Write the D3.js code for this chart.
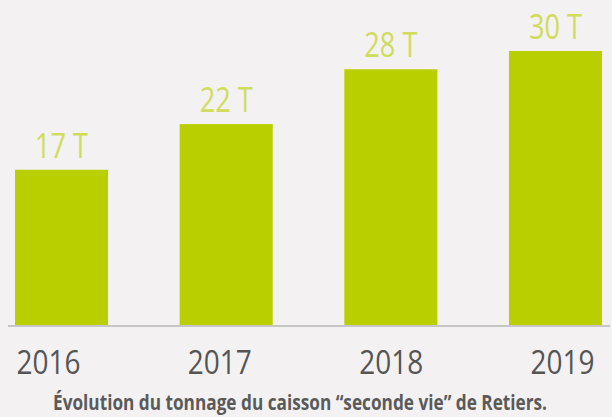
<!DOCTYPE html>
<html>
<head>
<meta charset="utf-8">
<script src="https://cdn.jsdelivr.net/npm/d3@7"></script>
<style>
  html, body { margin: 0; padding: 0; background: #f3f1f2; }
  svg { display: block; }
</style>
</head>
<body>
<svg></svg>
<script>
        // Data
        var years = ["2016", "2017", "2018", "2019"];
        var tonnage = [17, 22, 28, 30];
        var valueLabels = ["17 T", "22 T", "28 T", "30 T"];
        var caption = "Évolution du tonnage du caisson \u201cseconde vie\u201d de Retiers.";

        var W = 612, H = 417;
        var baseY = 325;
        var font = "'Open Sans', 'Noto Sans', sans-serif";

        var svg = d3.select("svg")
                    .attr("width", W)
                    .attr("height", H);

        svg.append("rect")
            .attr("width", W)
            .attr("height", H)
            .attr("fill", "#f3f1f2");

        // Scales
        var xScale = d3.scaleBand()
                        .domain(years)
                        .range([15, 602])
                        .paddingInner(0.435)
                        .paddingOuter(0);

        var yScale = d3.scaleLinear()
                        .domain([0, 30])
                        .range([baseY, 51]);

        // year labels sit on their own slightly wider spread
        var labelScale = d3.scalePoint()
                        .domain(years)
                        .range([48, 562]);

        // Bars
        svg.selectAll("rect.bar")
            .data(tonnage)
            .enter()
            .append("rect")
            .attr("class", "bar")
            .attr("x", function(d, i) { return xScale(years[i]); })
            .attr("y", function(d) { return yScale(d); })
            .attr("width", xScale.bandwidth())
            .attr("height", function(d) { return baseY - yScale(d); })
            .attr("fill", "#b9cf00");

        // Value labels (condensed to mimic the narrow original face)
        svg.selectAll("text.val")
            .data(tonnage)
            .enter()
            .append("text")
            .attr("class", "val")
            .attr("x", function(d, i) { return xScale(years[i]) + xScale.bandwidth() / 2; })
            .attr("y", function(d) { return yScale(d) - 12; })
            .attr("text-anchor", "middle")
            .attr("font-family", font)
            .attr("font-size", "34px")
            .attr("textLength", 53)
            .attr("lengthAdjust", "spacingAndGlyphs")
            .attr("fill", "#cfdc5c")
            .text(function(d, i) { return valueLabels[i]; });

        // Baseline
        svg.append("line")
            .attr("x1", 8)
            .attr("x2", 610)
            .attr("y1", baseY + 1)
            .attr("y2", baseY + 1)
            .attr("stroke", "#c6c6c6")
            .attr("stroke-width", 2);

        // X axis (years)
        var xAxis = d3.axisBottom(labelScale)
                      .tickSize(0)
                      .tickPadding(0);

        var xAxisGroup = svg.append("g")
            .attr("transform", "translate(0, 374)")
            .call(xAxis);

        xAxisGroup.select(".domain").remove();
        xAxisGroup.selectAll("text")
            .attr("dy", 0)
            .attr("y", 0)
            .attr("font-family", font)
            .attr("font-size", "33px")
            .attr("textLength", 64)
            .attr("lengthAdjust", "spacingAndGlyphs")
            .attr("fill", "#555555");

        // Caption: squeezed horizontally, the original uses a condensed bold face
        var squeeze = 0.75;
        svg.append("text")
            .attr("transform", "translate(300, 410) scale(" + squeeze + ", 1)")
            .attr("text-anchor", "middle")
            .attr("font-family", font)
            .attr("font-weight", "bold")
            .attr("font-size", "21px")
            .attr("textLength", 494 / squeeze)
            .attr("lengthAdjust", "spacingAndGlyphs")
            .attr("fill", "#5a5a5a")
            .text(caption);
</script>
</body>
</html>
